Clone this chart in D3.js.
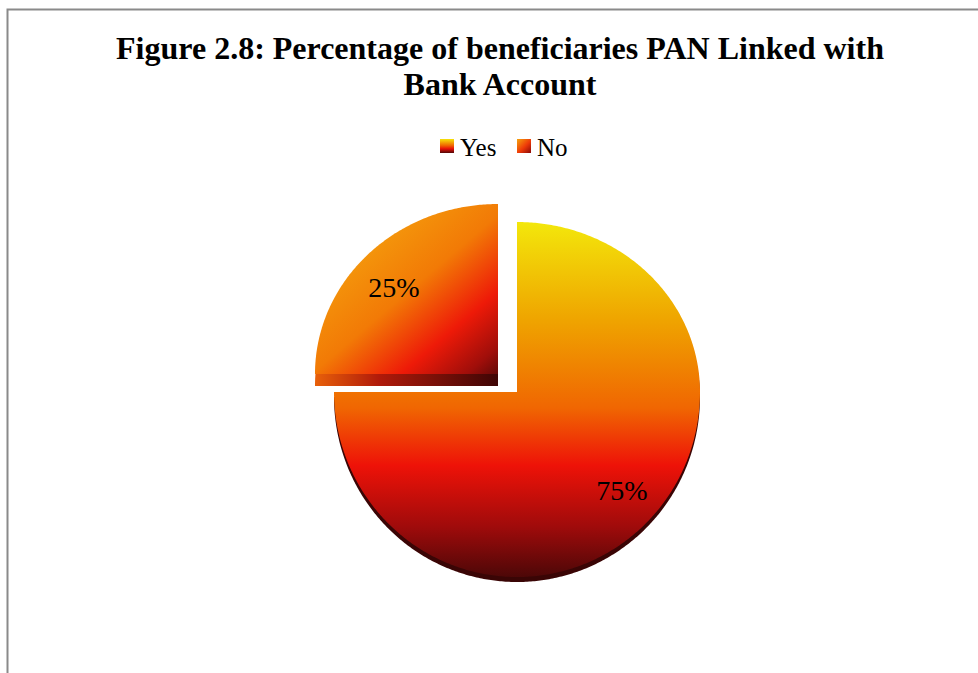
<!DOCTYPE html>
<html>
<head>
<meta charset="utf-8">
<script src="https://cdn.jsdelivr.net/npm/d3@7/dist/d3.min.js"></script>
<style>
  body { margin: 0; background: #fff; }
  svg { display: block; }
</style>
</head>
<body>
<svg id="chart" width="978" height="673"></svg>
<script>
// chart data
var titleLines = ["Figure 2.8: Percentage of beneficiaries PAN Linked with", "Bank Account"];
var categories = ["Yes", "No"];
var values = [75, 25];
var labels = ["75%", "25%"];

var svg = d3.select("#chart");
var defs = svg.append("defs");

// frame (left + top edge only, like the cropped original)
svg.append("path")
    .attr("d", "M7.5,673 L7.5,9.5 L978,9.5")
    .attr("fill", "none")
    .attr("stroke", "#8a8a8a")
    .attr("stroke-width", 2);

// title
svg.append("text")
    .attr("x", 500).attr("y", 59)
    .attr("text-anchor", "middle")
    .style("font-family", "'Liberation Serif', 'Times New Roman', serif")
    .style("font-weight", "bold")
    .style("font-size", "32px")
    .selectAll("tspan")
    .data(titleLines).enter()
    .append("tspan")
    .attr("x", 500)
    .attr("dy", function(d, i){ return i == 0 ? 0 : 36; })
    .text(function(d){ return d; });

// gradients (coordinates are local to each slice group)
function addGrad(id, attrs, stops){
    var g = defs.append("linearGradient").attr("id", id);
    for (var k in attrs) g.attr(k, attrs[k]);
    g.selectAll("stop").data(stops).enter().append("stop")
        .attr("offset", function(d){ return d[0]; })
        .attr("stop-color", function(d){ return d[1]; });
}
addGrad("gYes", {gradientUnits: "userSpaceOnUse", x1: 0, y1: -170, x2: 0, y2: 188},
    [[0, "#f3e70b"], [0.27, "#efa500"], [0.52, "#f06602"], [0.68, "#ee1208"], [0.85, "#a00b0b"], [1, "#480707"]]);
addGrad("gNo", {gradientUnits: "userSpaceOnUse", x1: -138, y1: -159, x2: 7, y2: 11},
    [[0, "#f5a40e"], [0.4, "#f27a06"], [0.66, "#ee1a08"], [0.85, "#a00e0a"], [1, "#3e0606"]]);
addGrad("gNoSide", {gradientUnits: "userSpaceOnUse", x1: -183, y1: 0, x2: 0, y2: 0},
    [[0, "#e8600a"], [0.35, "#b01a0a"], [1, "#3e0505"]]);
addGrad("gYesSw", {x1: 0, y1: 0, x2: 0, y2: 1},
    [[0, "#f6e40a"], [0.45, "#f06a00"], [0.7, "#e81008"], [1, "#500707"]]);
addGrad("gNoSw", {x1: 0, y1: 0, x2: 1, y2: 1},
    [[0, "#f5a40e"], [0.55, "#ee3a08"], [1, "#8a0808"]]);

var fills = {Yes: "url(#gYes)", No: "url(#gNo)"};
var sides = {Yes: "#3a0505", No: "url(#gNoSide)"};
var depth = {Yes: 5, No: 12};
var swatch = {Yes: "url(#gYesSw)", No: "url(#gNoSw)"};

// pie layout
var cx = 517, cy = 392, rx = 183, ryTop = 170, ryBot = 185;
var explode = {Yes: [0, 0], No: [-19, -18]};

var pie = d3.pie().sort(null).value(function(d){ return d.v; });
var arcs = pie(categories.map(function(c, i){ return {cat: c, v: values[i], label: labels[i]}; }));

// tilted (perspective) pie face: sample points along the slice angle
function slicePoints(a){
    var pts = [[0, 0]];
    var n = Math.ceil((a.endAngle - a.startAngle) / 0.01);
    for (var i = 0; i <= n; i++){
        var t = a.startAngle + (a.endAngle - a.startAngle) * i / n;
        var c = Math.cos(t);
        pts.push([rx * Math.sin(t), -c * (c > 0 ? ryTop : ryBot)]);
    }
    return pts;
}
var line = d3.line().curve(d3.curveLinearClosed);

var g = svg.selectAll("g.slice")
    .data(arcs).enter()
    .append("g")
    .attr("class", "slice")
    .attr("transform", function(d){
        var o = explode[d.data.cat];
        return "translate(" + (cx + o[0]) + "," + (cy + o[1]) + ")";
    });

// side wall
g.append("path")
    .attr("d", function(d){ return line(slicePoints(d)); })
    .attr("transform", function(d){ return "translate(0," + depth[d.data.cat] + ")"; })
    .attr("fill", function(d){ return sides[d.data.cat]; });

// top face
g.append("path")
    .attr("d", function(d){ return line(slicePoints(d)); })
    .attr("fill", function(d){ return fills[d.data.cat]; });

// data labels
var labelPos = {Yes: [105, 108], No: [-104, -77]};
g.append("text")
    .attr("x", function(d){ return labelPos[d.data.cat][0]; })
    .attr("y", function(d){ return labelPos[d.data.cat][1]; })
    .attr("text-anchor", "middle")
    .style("font-family", "'Liberation Serif', 'Times New Roman', serif")
    .style("font-size", "28px")
    .attr("fill", "#000")
    .text(function(d){ return d.data.label; });

// legend
var legendX = [440, 517];
var lg = svg.selectAll("g.legend")
    .data(categories).enter()
    .append("g")
    .attr("class", "legend")
    .attr("transform", function(d, i){ return "translate(" + legendX[i] + ",139)"; });
lg.append("rect")
    .attr("width", 14).attr("height", 14)
    .attr("fill", function(d){ return swatch[d]; });
lg.append("text")
    .attr("x", 20).attr("y", 17)
    .style("font-family", "'Liberation Serif', 'Times New Roman', serif")
    .style("font-size", "25px")
    .text(function(d){ return d; });
</script>
</body>
</html>
